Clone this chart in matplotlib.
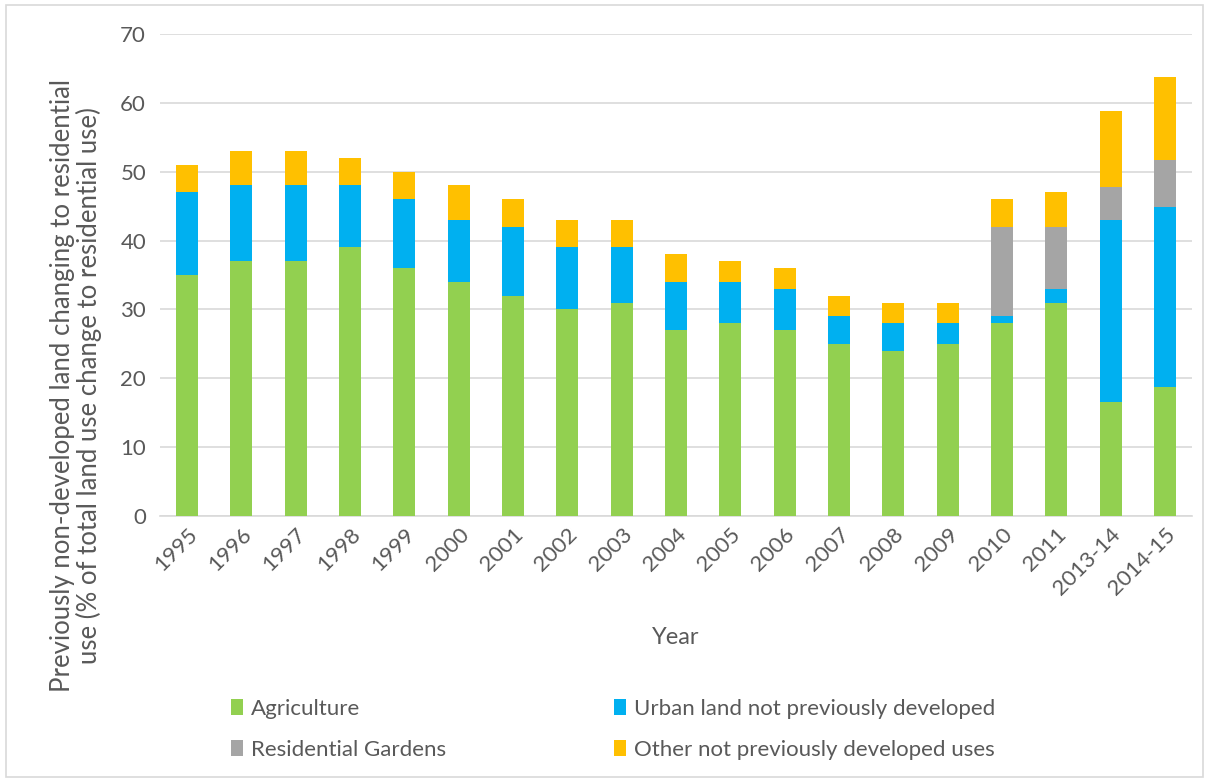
import matplotlib
matplotlib.use("Agg")
import matplotlib.pyplot as plt
import numpy as np
from matplotlib.patches import Rectangle

years = ["1995", "1996", "1997", "1998", "1999", "2000", "2001", "2002", "2003",
         "2004", "2005", "2006", "2007", "2008", "2009", "2010", "2011",
         "2013-14", "2014-15"]
agriculture = [35, 37, 37, 39, 36, 34, 32, 30, 31, 27, 28, 27, 25, 24, 25, 28, 31, 16.5, 18.8]
urban = [12, 11, 11, 9, 10, 9, 10, 9, 8, 7, 6, 6, 4, 4, 3, 1, 2, 26.5, 26.1]
gardens = [0, 0, 0, 0, 0, 0, 0, 0, 0, 0, 0, 0, 0, 0, 0, 13, 9, 4.8, 6.8]
other = [4, 5, 5, 4, 4, 5, 4, 4, 4, 4, 3, 3, 3, 3, 3, 4, 5, 11.0, 12.0]

series = [("Agriculture", agriculture, "#92D050"),
          ("Urban land not previously developed", urban, "#00B0F0"),
          ("Residential Gardens", gardens, "#A5A5A5"),
          ("Other not previously developed uses", other, "#FFC000")]

plt.rcParams['font.family'] = ['Lato', 'DejaVu Sans']
txt = "#595959"

fig = plt.figure(figsize=(12.09, 7.8), dpi=100)
ax = fig.add_axes([0.1323, 0.3385, 0.8537, 0.6179])

x = np.arange(len(years))
bottom = np.zeros(len(years))
handles = []
for name, vals, col in series:
    v = np.array(vals, dtype=float)
    b = ax.bar(x, v, width=0.405, bottom=bottom, color=col, label=name, zorder=3,
               edgecolor='none')
    handles.append(b)
    bottom += v

ax.set_xlim(-0.5, len(years) - 0.5)
ax.set_ylim(0, 70)
ax.set_yticks(range(0, 71, 10))
ax.yaxis.grid(True, color="#D9D9D9", linewidth=1.2, zorder=0)
ax.set_axisbelow(True)
for s in ["top", "right", "left"]:
    ax.spines[s].set_visible(False)
ax.spines["bottom"].set_color("#D9D9D9")
ax.spines["bottom"].set_linewidth(1.2)
ax.tick_params(axis='both', length=0, labelsize=16, colors=txt, pad=10)
ax.set_xticks(x)
ax.set_xticklabels(years, rotation=45, ha='right', rotation_mode='anchor')
ax.tick_params(axis='x', pad=6)

ax.set_xlabel("Year", fontsize=17, color=txt, labelpad=20)
fig.text(76 / 1209, 1 - 386 / 780,
         "Previously non-developed land changing to residential\nuse (% of total land use change to residential use)",
         fontsize=18.5, color=txt, rotation=90, ha='center', va='center',
         multialignment='center', linespacing=1.05)

leg = fig.legend(handles=[handles[0], handles[2], handles[1], handles[3]],
                 labels=["Agriculture", "Residential Gardens",
                         "Urban land not previously developed",
                         "Other not previously developed uses"],
                 ncol=2, loc='lower left', bbox_to_anchor=(0.1745, 0.0),
                 frameon=False, fontsize=16, labelcolor=txt,
                 handlelength=0.55, handleheight=0.7, handletextpad=0.35,
                 columnspacing=7.55, labelspacing=0.95)

fig.patches.append(Rectangle((0.005, 0.004), 0.99, 0.99, transform=fig.transFigure,
                             fill=False, edgecolor="#D9D9D9", linewidth=1.2))

fig.savefig("out.png", dpi=100, facecolor="white")
